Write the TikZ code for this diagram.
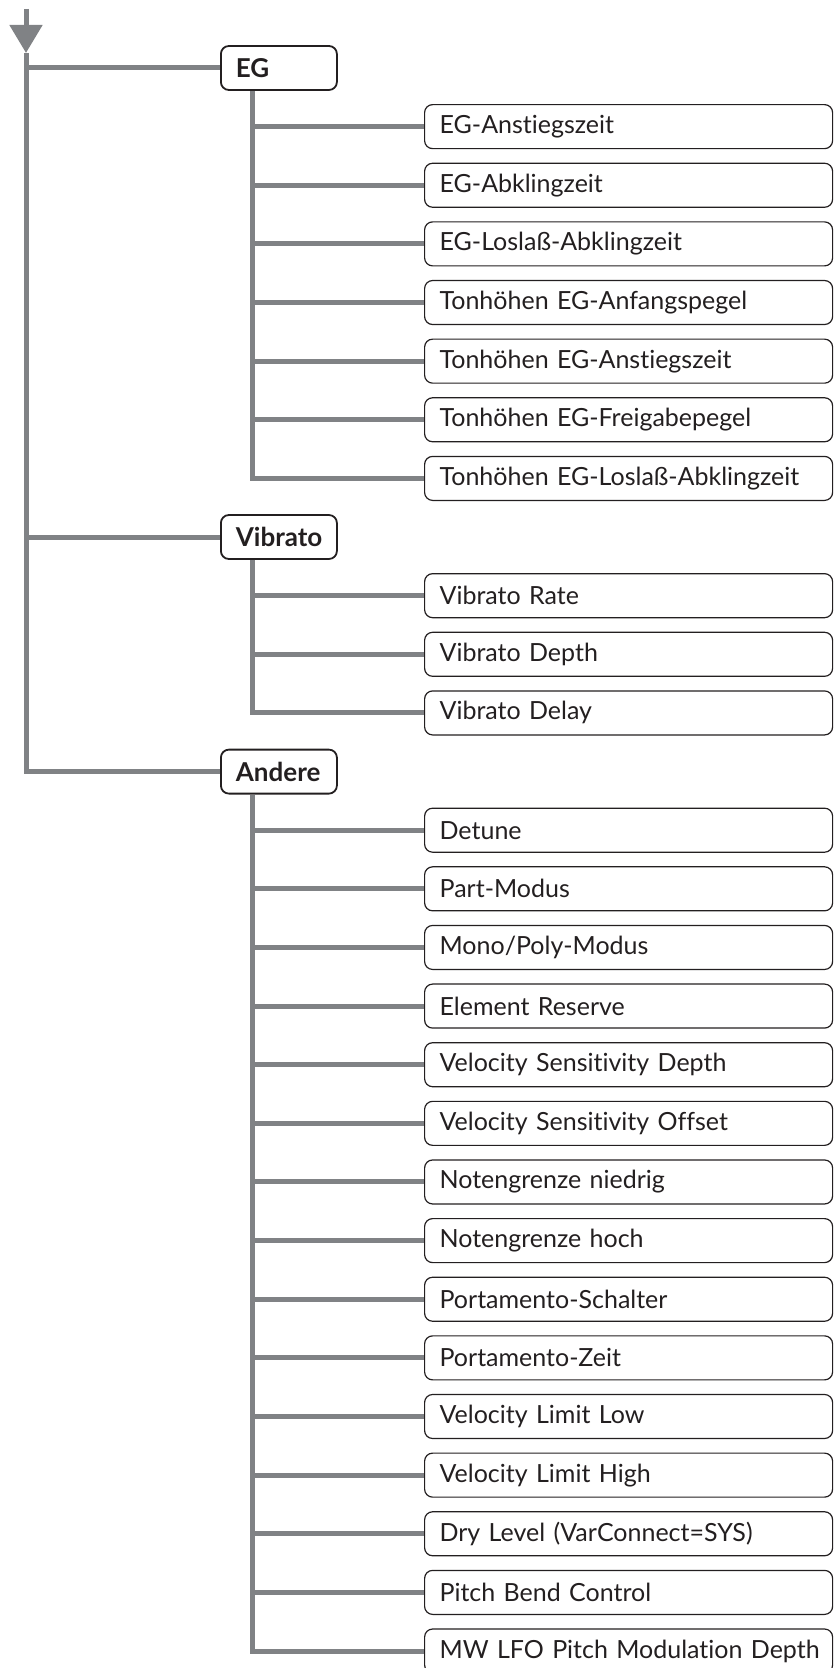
\documentclass[tikz,border=0pt]{standalone}
\usepackage{fontspec}
\setmainfont{Lato}[Ligatures={NoCommon,NoRare,NoDiscretionary}]
\usetikzlibrary{arrows.meta}
\definecolor{lineg}{RGB}{128,130,133}
\definecolor{ink}{RGB}{35,31,32}
\tikzset{
  trunk/.style={draw=lineg, line width=2.5pt},
  grp/.style={draw=ink, line width=0.9pt, rounded corners=4pt, anchor=west, text=ink,
    font=\bfseries\fontsize{13}{15}\selectfont, minimum height=22pt,
    inner xsep=7.5pt, text width=43pt, align=left},
  leaf/.style={draw=ink, line width=0.6pt, rounded corners=4pt, anchor=west, text=ink,
    font=\fontsize{12.5}{15}\selectfont, minimum height=22pt,
    inner xsep=7.5pt, text width=189pt, align=left},
}
\begin{document}
\begin{tikzpicture}[x=0.5pt,y=-0.5pt]
  \useasboundingbox (0,0) rectangle (838,1668);
  \coordinate (top) at (26,9);
  \coordinate (tip) at (26,53);

  \node[grp] (eg) at (220,68) {EG};
  \node[grp] (vib) at (220,537) {Vibrato};
  \node[grp] (and) at (220,771.6) {Andere};

  \foreach \txt [count=\i] in {EG-Anstiegszeit, EG-Abklingzeit, EG-Loslaß-Abklingzeit,
      Tonhöhen EG-Anfangspegel, Tonhöhen EG-Anstiegszeit, Tonhöhen EG-Freigabepegel,
      Tonhöhen EG-Loslaß-Abklingzeit}
    \node[leaf] (eg\i) at (424,{68+58.63*\i}) {\mbox{\txt}};
  \foreach \txt [count=\i] in {Vibrato Rate, Vibrato Depth, Vibrato Delay}
    \node[leaf] (vib\i) at (424,{68+58.63*(8+\i)}) {\mbox{\txt}};
  \foreach \txt [count=\i] in {Detune, Part-Modus, Mono/Poly-Modus, Element Reserve,
      Velocity Sensitivity Depth, Velocity Sensitivity Offset, Notengrenze niedrig,
      Notengrenze hoch, Portamento-Schalter, Portamento-Zeit, Velocity Limit Low,
      Velocity Limit High, Dry Level (VarConnect=SYS), Pitch Bend Control,
      MW LFO Pitch Modulation Depth}
    \node[leaf] (and\i) at (424,{68+58.63*(12+\i)}) {\mbox{\txt}};

  \draw[trunk,-{Triangle[length=14pt,width=16pt]}] (top) -- (tip);
  \draw[trunk] (tip) |- (and.west);
  \draw[trunk] (tip |- eg.west) -- (eg.west);
  \draw[trunk] (tip |- vib.west) -- (vib.west);

  \foreach \g/\n in {eg/7, vib/3, and/15} {
    \coordinate (\g-x) at ([xshift=16pt]\g.south west);
    \draw[trunk] (\g-x) |- (\g\n.west);
    \foreach \i in {1,...,\n}
      \draw[trunk] (\g-x |- \g\i.west) -- (\g\i.west);
  }
\end{tikzpicture}
\end{document}
